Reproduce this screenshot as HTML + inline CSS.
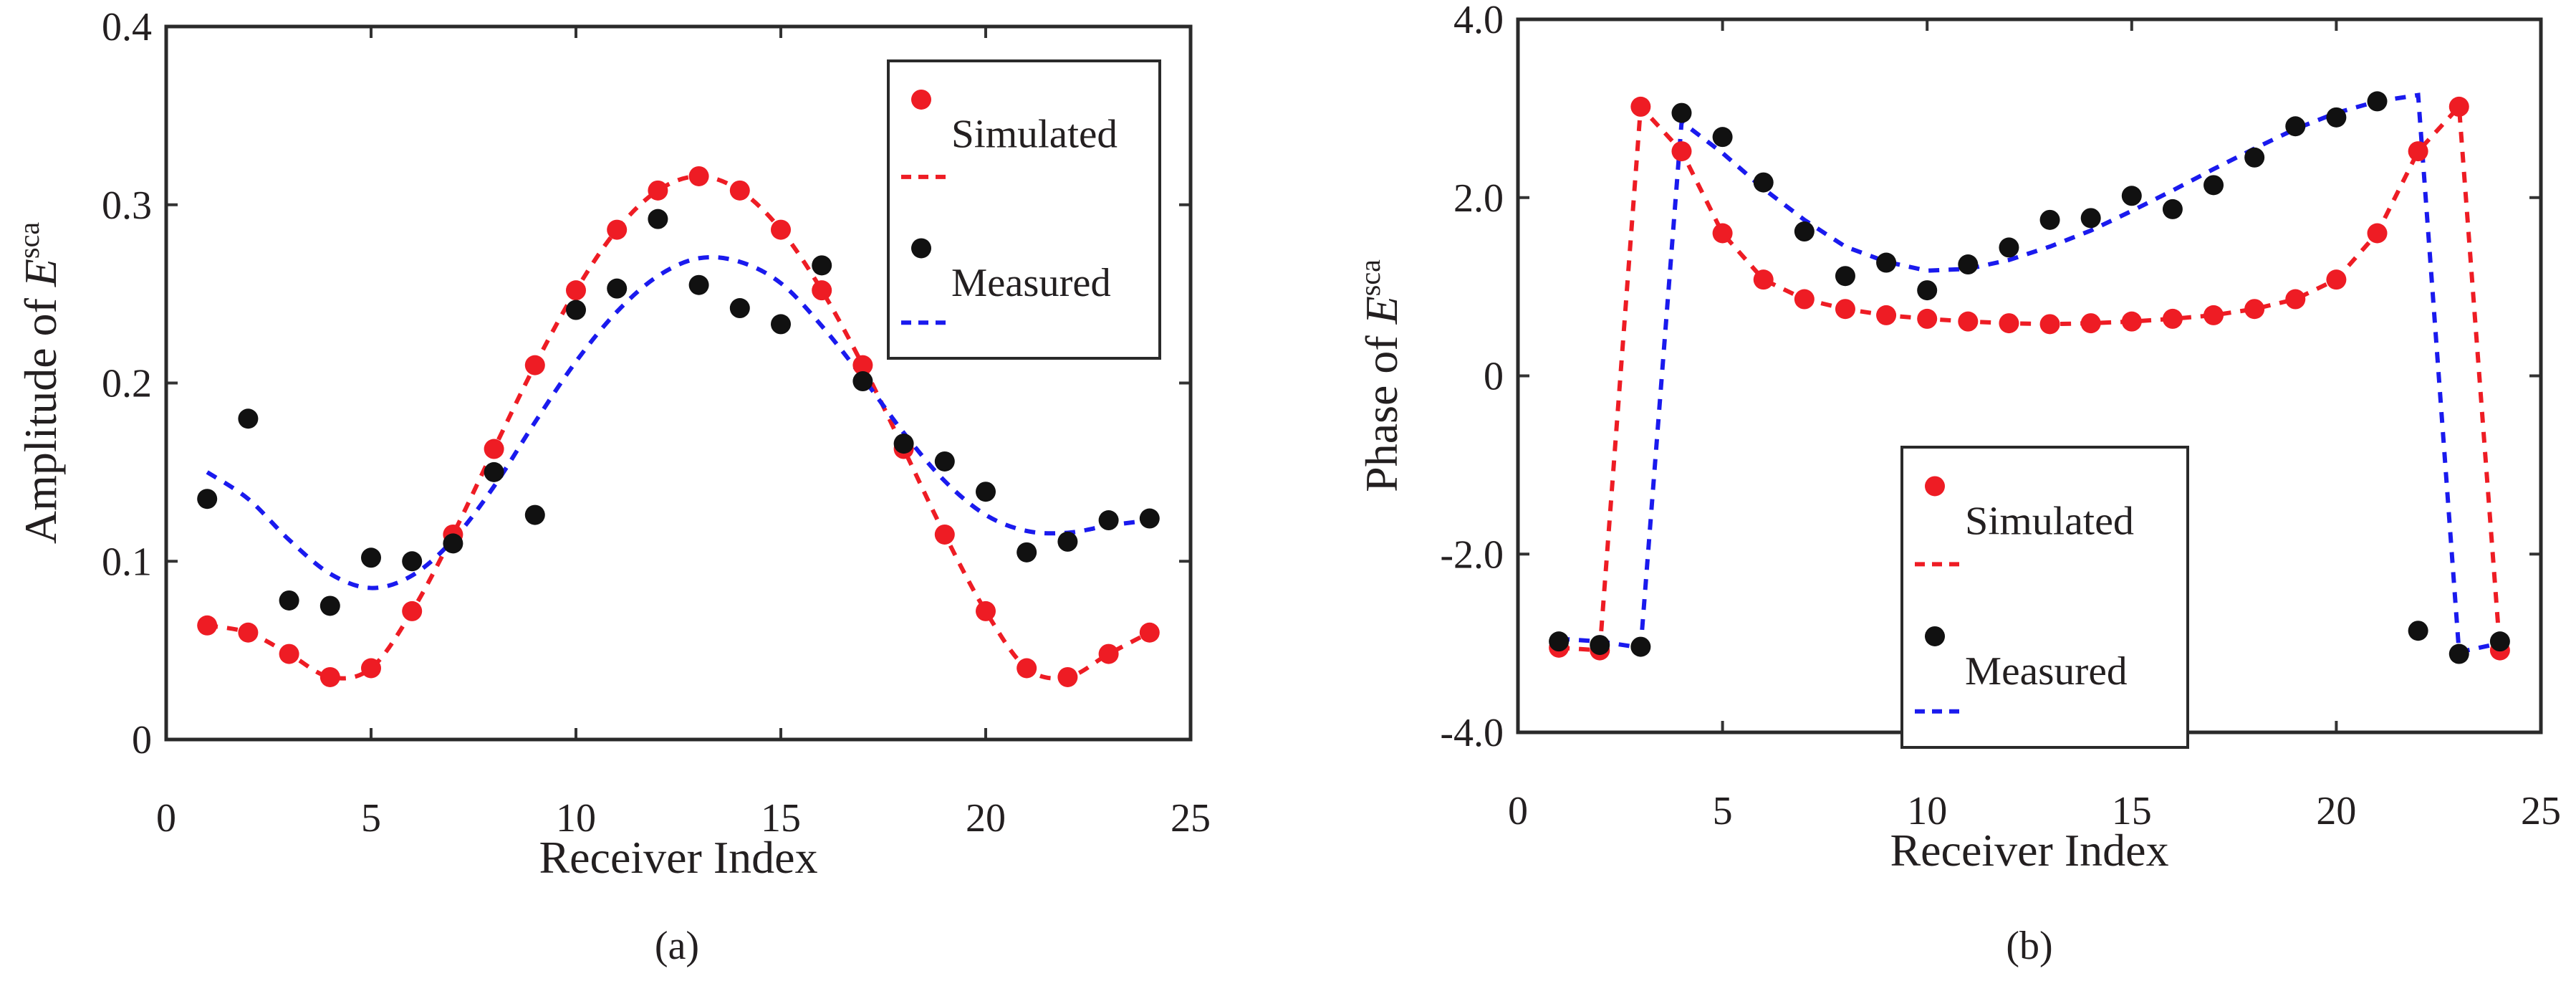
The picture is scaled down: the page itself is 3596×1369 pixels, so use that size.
<!DOCTYPE html>
<html><head><meta charset="utf-8"><style>
html,body{margin:0;padding:0;background:#fff;}
svg text{font-family:"Liberation Serif",serif;fill:#231f20;}
</style></head><body>
<svg id="fig" width="3596" height="1364" viewBox="0 0 3596 1364" xmlns="http://www.w3.org/2000/svg"></svg>
<script>
const receiverIdx=[1,2,3,4,5,6,7,8,9,10,11,12,13,14,15,16,17,18,19,20,21,22,23,24];
const ampSimulated=[0.064,0.060,0.048,0.035,0.040,0.072,0.115,0.163,0.210,0.252,0.286,0.308,0.316,0.308,0.286,0.252,0.210,0.163,0.115,0.072,0.040,0.035,0.048,0.060];
const ampMeasured=[0.135,0.180,0.078,0.075,0.102,0.100,0.110,0.150,0.126,0.241,0.253,0.292,0.255,0.242,0.233,0.266,0.201,0.166,0.156,0.139,0.105,0.111,0.123,0.124];
const ampFit=[0.150,0.135,0.112,0.093,0.085,0.092,0.112,0.142,0.178,0.212,0.240,0.260,0.270,0.268,0.256,0.232,0.203,0.172,0.145,0.126,0.117,0.116,0.120,0.123];
const phSimulated=[-3.05,-3.08,3.02,2.52,1.60,1.08,0.86,0.75,0.68,0.64,0.61,0.59,0.58,0.59,0.61,0.64,0.68,0.75,0.86,1.08,1.60,2.52,3.02,-3.08];
const phMeasured=[-2.98,-3.02,-3.04,2.95,2.68,2.17,1.62,1.12,1.27,0.96,1.25,1.44,1.75,1.77,2.02,1.87,2.14,2.45,2.80,2.90,3.08,-2.86,-3.12,-2.98];
const phFit=[-2.95,-2.98,-3.05,2.85,2.50,2.10,1.75,1.45,1.28,1.18,1.20,1.30,1.45,1.63,1.85,2.08,2.32,2.55,2.77,2.95,3.08,3.15,-3.10,-3.00];
const xTicks=[0,5,10,15,20,25];
const ampTicks=[0,0.1,0.2,0.3,0.4];
const ampTickLabels=["0","0.1","0.2","0.3","0.4"];
const phTicks=[-4,-2,0,2,4];
const phTickLabels=["-4.0","-2.0","0","2.0","4.0"];

const NS="http://www.w3.org/2000/svg";
const svg=document.getElementById('fig');
function mk(tag,attrs,parent,text){const e=document.createElementNS(NS,tag);for(const k in attrs)e.setAttribute(k,attrs[k]);if(text!==undefined)e.textContent=text;(parent||svg).appendChild(e);return e;}

function smoothPath(pts){let d=`M${pts[0][0]},${pts[0][1]}`;for(let i=0;i<pts.length-1;i++){const p0=pts[Math.max(0,i-1)],p1=pts[i],p2=pts[i+1],p3=pts[Math.min(pts.length-1,i+2)];const c1=[p1[0]+(p2[0]-p0[0])/6,p1[1]+(p2[1]-p0[1])/6],c2=[p2[0]-(p3[0]-p1[0])/6,p2[1]-(p3[1]-p1[1])/6];d+=` C${c1[0]},${c1[1]} ${c2[0]},${c2[1]} ${p2[0]},${p2[1]}`;}return d;}
function linePath(pts){return pts.map((p,i)=>(i?'L':'M')+p[0]+','+p[1]).join(' ');}

function panel(cfg){
  const g=mk('g',{});
  
  
  const {L,R,T,B,ymin,ymax}=cfg;
  const sx=v=>L+(v-0)/25*(R-L);
  const sy=v=>B-(v-ymin)/(ymax-ymin)*(B-T);
  xTicks.forEach(t=>{const x=sx(t);
    mk('line',{x1:x,x2:x,y1:B,y2:B-16,stroke:'#333','stroke-width':4},g);
    mk('line',{x1:x,x2:x,y1:T,y2:T+16,stroke:'#333','stroke-width':4},g);
    const tl=mk('text',{x:x,y:B+128,'font-size':56,'text-anchor':'middle'},g,String(t));
    
    
  });
  cfg.ticks.forEach((t,i)=>{const y=sy(t);
    mk('line',{x1:L,x2:L+16,y1:y,y2:y,stroke:'#333','stroke-width':4},g);
    mk('line',{x1:R,x2:R-16,y1:y,y2:y,stroke:'#333','stroke-width':4},g);
    const tl=mk('text',{x:L-20,y:y+19,'font-size':56,'text-anchor':'end'},g,cfg.labels[i]);
    
    
  });
  const box=mk('rect',{x:L,y:T,width:R-L,height:B-T,fill:'none',stroke:'#2a2a2a','stroke-width':5},g);
  
  
  const simPts=receiverIdx.map((x,i)=>[sx(x),sy(cfg.sim[i])]);
  const fitPts=receiverIdx.map((x,i)=>[sx(x),sy(cfg.fit[i])]);
  const simLine=mk('path',{d:cfg.smooth?smoothPath(simPts):linePath(simPts),fill:'none',stroke:'#ee1c24','stroke-width':6,'stroke-dasharray':'15 13'},g);
  
  
  const fitLine=mk('path',{d:cfg.smooth?smoothPath(fitPts):linePath(fitPts),fill:'none',stroke:'#1a1aee','stroke-width':6,'stroke-dasharray':'15 13'},g);
  
  
  receiverIdx.forEach((x,i)=>{
    const c=mk('circle',{cx:sx(x),cy:sy(cfg.sim[i]),r:14,fill:'#ee1c24'},g);
    
    
  });
  receiverIdx.forEach((x,i)=>{
    const c=mk('circle',{cx:sx(x),cy:sy(cfg.meas[i]),r:14,fill:'#111'},g);
    
    
  });
  const lg=cfg.legend;
  const leg=mk('g',{},g);
  
  
  mk('rect',{x:lg.x,y:lg.y,width:lg.w,height:lg.h,fill:'#fff',stroke:'#2a2a2a','stroke-width':4},leg);
  const h=lg.h;
  mk('circle',{cx:lg.x+46,cy:lg.y+h*0.13,r:14,fill:'#ee1c24'},leg);
  mk('text',{x:lg.x+88,y:lg.y+h*0.29,'font-size':56,textLength:lg.tw,lengthAdjust:'spacingAndGlyphs'},leg,'Simulated');
  mk('line',{x1:lg.x+18,x2:lg.x+82,y1:lg.y+h*0.39,y2:lg.y+h*0.39,stroke:'#ee1c24','stroke-width':6,'stroke-dasharray':'14 10'},leg);
  mk('circle',{cx:lg.x+46,cy:lg.y+h*0.63,r:14,fill:'#111'},leg);
  mk('text',{x:lg.x+88,y:lg.y+h*0.79,'font-size':56,textLength:lg.tw*0.96,lengthAdjust:'spacingAndGlyphs'},leg,'Measured');
  mk('line',{x1:lg.x+18,x2:lg.x+82,y1:lg.y+h*0.88,y2:lg.y+h*0.88,stroke:'#1a1aee','stroke-width':6,'stroke-dasharray':'14 10'},leg);
  const xl=mk('text',{x:(L+R)/2,y:B+186,'font-size':64,'text-anchor':'middle'},g,'Receiver Index');
  
  
  const yl=mk('text',{x:0,y:0,'font-size':64,'text-anchor':'middle',transform:`translate(${cfg.ylx},${(T+B)/2}) rotate(-90)`},g);
  
  
  yl.innerHTML=cfg.ytitle+' of <tspan font-style="italic">E</tspan><tspan font-size="40" dy="-24">sca</tspan>';
  const cap=mk('text',{x:cfg.capx,y:1338,'font-size':56,'text-anchor':'middle'},g,cfg.cap);
  
  
}
panel({name:'amplitude-chart',L:232,R:1662,T:37,B:1032,ymin:0,ymax:0.4,ticks:ampTicks,labels:ampTickLabels,sim:ampSimulated,meas:ampMeasured,fit:ampFit,smooth:true,legend:{x:1240,y:85,w:379,h:415,tw:232},ytitle:'Amplitude',ylx:78,capx:945,cap:'(a)'});
panel({name:'phase-chart',L:2119,R:3547,T:27,B:1022,ymin:-4,ymax:4,ticks:phTicks,labels:phTickLabels,sim:phSimulated,meas:phMeasured,fit:phFit,smooth:false,legend:{x:2655,y:624,w:399,h:419,tw:236},ytitle:'Phase',ylx:1950,capx:2833,cap:'(b)'});
</script>
</body></html>
